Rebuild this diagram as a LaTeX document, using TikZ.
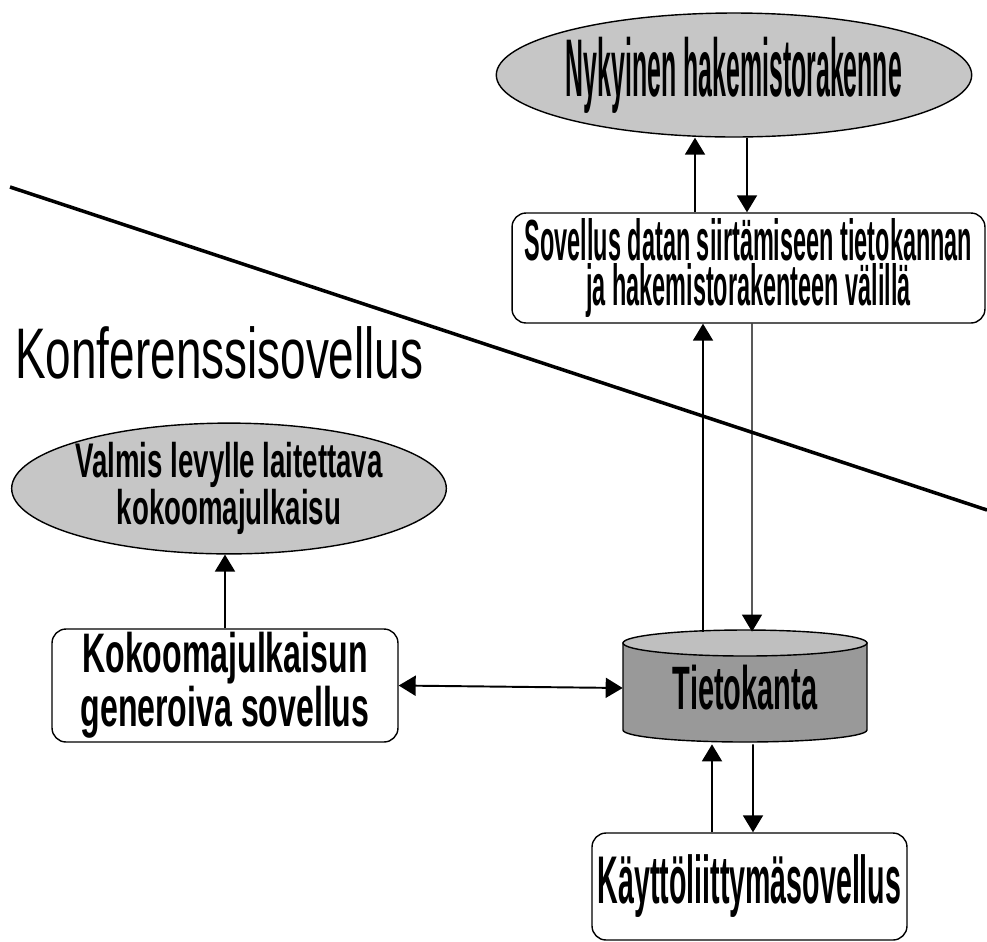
\documentclass[tikz,border=0pt]{standalone}
\usepackage{fontspec}
\setmainfont{Liberation Sans}
\usetikzlibrary{shapes.geometric,arrows.meta,calc}

% narrow label font: size, skip, stretch
\newcommand{\squeezed}[3]{\fontsize{#1}{#2}\selectfont\addfontfeature{FakeStretch=#3}}

\tikzset{
  arr/.style={-{Triangle[length=0.34cm,width=0.4cm]}, line width=1.1pt},
  thinarr/.style={arr, line width=0.6pt},
  oval/.style={ellipse, draw, line width=0.8pt, fill=gray!45, inner sep=0pt, align=center},
  appbox/.style={rectangle, rounded corners=0.28cm, draw, line width=0.8pt, inner sep=0pt, align=center},
}

\begin{document}
\begin{tikzpicture}[x=0.02cm, y=-0.02cm]
  \useasboundingbox (0,0) rectangle (987,941);
  % dividing line
  \draw[line width=2pt] (10,187) -- (987,510);
  % directory side
  \node[oval, minimum width=8.44cm, minimum height=2.48cm, font=\bfseries\squeezed{46.6pt}{46.6pt}{0.304}] (nyky) at (734,75) {Nykyinen hakemistorakenne};
  \node[appbox, minimum width=9.46cm, minimum height=2.2cm, font=\bfseries\squeezed{33pt}{23.5pt}{0.405}] (sov) at (748.5,268) {Sovellus datan siirtämiseen tietokannan\\ja hakemistorakenteen välillä};
  % conference side
  \node[anchor=base west, inner sep=0pt, font=\squeezed{40.8pt}{40.8pt}{0.64}] (title) at (15,378) {Konferenssisovellus};
  \node[oval, minimum width=8.64cm, minimum height=2.46cm, font=\bfseries\squeezed{27.7pt}{25.6pt}{0.568}] (valmis) at (229,488.5) {Valmis levylle laitettava\\kokoomajulkaisu};
  \node[appbox, minimum width=6.92cm, minimum height=2.26cm, font=\bfseries\squeezed{31.7pt}{26.7pt}{0.576}] (kokoo) at (225,685.5) {Kokoomajulkaisun\\generoiva sovellus};
  % database cylinder
  \filldraw[fill=gray!80, line width=0.8pt] (623,643) -- (623,730) arc[start angle=180, end angle=360, x radius=2.44cm, y radius=0.24cm] -- (867,643) -- cycle;
  \filldraw[fill=gray!50, line width=0.8pt] (745,643) ellipse [x radius=2.44cm, y radius=0.26cm];
  \node[inner sep=0pt, minimum width=4.88cm, minimum height=2.24cm, font=\bfseries\squeezed{34.9pt}{34.9pt}{0.472}] (db) at (745,688) {Tietokanta};
  \node[appbox, minimum width=6.3cm, minimum height=2.14cm, font=\bfseries\squeezed{38.4pt}{38.4pt}{0.424}] (kaytto) at (749.5,886.5) {Käyttöliittymäsovellus};
  % arrows
  \draw[arr] ($(sov.north)+(-53.5,0)$) -- ($(nyky.south)+(-39,0)$);
  \draw[arr] ($(nyky.south)+(13,0)$) -- ($(sov.north)+(-1.5,0)$);
  \draw[arr] ($(db.north)+(-42,0)$) -- ($(sov.south)+(-45.5,0)$);
  \draw[thinarr] ($(sov.south)+(3.5,0)$) -- ($(db.north)+(7,0)$);
  \draw[arr] ($(kaytto.north)+(-37.5,0)$) -- ($(db.south)+(-33,0)$);
  \draw[arr] ($(db.south)+(8,0)$) -- ($(kaytto.north)+(3.5,0)$);
  \draw[arr] (kokoo.north) -- (kokoo.north |- valmis.south);
  \draw[arr, {Triangle[length=0.34cm,width=0.4cm]}-{Triangle[length=0.34cm,width=0.4cm]}] (kokoo.east) -- (db.west);
\end{tikzpicture}
\end{document}
